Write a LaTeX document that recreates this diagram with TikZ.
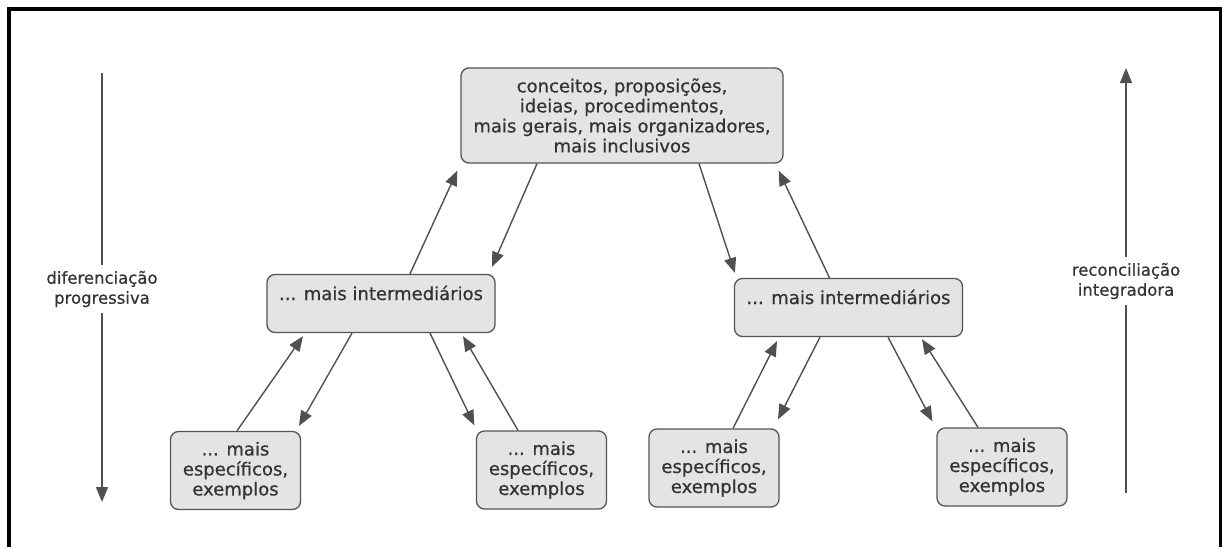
\documentclass[tikz,border=0pt]{standalone}
\usepackage{fontspec}
\setmainfont{DejaVu Sans}[BoldFont={DejaVu Sans},BoldFeatures={FakeBold=0.6}]
\usetikzlibrary{arrows.meta,calc}
\definecolor{boxfill}{HTML}{E4E4E4}
\definecolor{boxline}{HTML}{555555}
\definecolor{txt}{HTML}{333333}
\definecolor{arrline}{HTML}{505050}
\begin{document}
\begin{tikzpicture}[x=1pt,y=-1pt,
  box/.style={draw=boxline, fill=boxfill, rounded corners=8pt, line width=1.3pt,
    text=txt, font=\fontsize{18}{20}\selectfont\bfseries, align=center, inner sep=0pt},
  leaf/.style={box, minimum width=130pt, minimum height=78pt},
  mid/.style={box, minimum width=228pt, minimum height=58pt, text height=13pt, text depth=20pt},
  side/.style={text=txt, font=\fontsize{16.5}{20}\selectfont\bfseries, align=center, inner sep=6pt},
  plain/.style={draw=arrline, line width=1.4pt},
  arr/.style={plain, -{Triangle[length=15pt,width=12pt]}}]
\useasboundingbox (0,0) rectangle (1222,547);
\fill[white] (0,0) rectangle (1222,547);
\draw[line width=4pt, black] (8.5,547) -- (8.5,9) -- (1220.5,9) -- (1220.5,547);

\node[box, minimum width=322pt, minimum height=95pt] (top) at (622,115.5)
  {conceitos, proposições,\\ideias, procedimentos,\\mais gerais, mais organizadores,\\mais inclusivos};
\node[mid] (li) at (381,303.5) {... mais intermediários};
\node[mid] (ri) at (848.5,307.5) {... mais intermediários};
\node[leaf] (b1) at (235.5,470.5) {... mais\\específicos,\\exemplos};
\node[leaf] (b2) at (541.5,470) {... mais\\específicos,\\exemplos};
\node[leaf] (b3) at (714,468) {... mais\\específicos,\\exemplos};
\node[leaf] (b4) at (1002,467) {... mais\\específicos,\\exemplos};

\node[side] (dif) at (102,289) {diferenciação\\progressiva};
\node[side] (rec) at (1126,281) {reconciliação\\integradora};
\coordinate (lt) at (102,73);
\coordinate (lb) at (102,502);
\coordinate (rt) at (1126,68);
\coordinate (rb) at (1126,493);
\draw[plain] (lt) -- (dif.north);
\draw[arr] (dif.south) -- (lb);
\draw[arr] (rec.north) -- (rt);
\draw[plain] (rb) -- (rec.south);

% top <-> intermediates
\draw[arr] ($(top.south)+(-85,0)$) -- ($(li.north)+(111,-7)$);
\draw[arr] ($(li.north)+(29,0)$) -- ($(top.south west)+(-3,7)$);
\draw[arr] ($(top.south)+(77,0)$) -- ($(ri.north west)+(1,-5)$);
\draw[arr] ($(ri.north)+(-19,0)$) -- ($(top.south east)+(-5,7)$);

% left intermediate <-> leaves
\draw[arr] ($(b1.north)+(1.5,0)$) -- ($(li.south)+(-78,3)$);
\draw[arr] ($(li.south)+(-29,0)$) -- ($(b1.north)+(63.5,-5)$);
\draw[arr] ($(li.south)+(49,0)$) -- ($(b2.north west)+(-1.5,-5)$);
\draw[arr] ($(b2.north)+(-23.5,0)$) -- ($(li.south)+(82,3)$);

% right intermediate <-> leaves
\draw[arr] ($(b3.north)+(19,0)$) -- ($(ri.south)+(-71.5,4)$);
\draw[arr] ($(ri.south)+(-28.5,0)$) -- ($(b3.north)+(64,-9)$);
\draw[arr] ($(ri.south)+(39.5,0)$) -- ($(b4.north west)+(-4,-6)$);
\draw[arr] ($(b4.north)+(-24,0)$) -- ($(ri.south)+(73.5,2)$);
\end{tikzpicture}
\end{document}
